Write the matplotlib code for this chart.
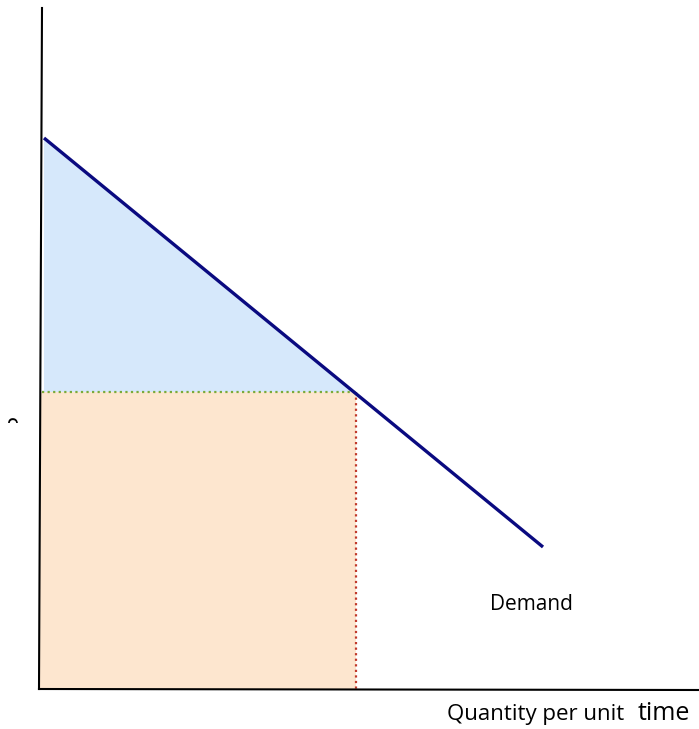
import matplotlib.pyplot as plt
from matplotlib.patches import Polygon, Rectangle
from matplotlib.transforms import Bbox, TransformedBbox

# everything is in picture pixels (x right, y down)
demand_x = [44, 543]
demand_y = [138, 547]
price_y = 392
qty_x = 356
yaxis_x = [42, 39]
yaxis_y = [8, 689]
xaxis_x = [39, 699]
xaxis_y = [689, 690]

fig = plt.figure(figsize=(6.99, 7.29), dpi=100)
ax = fig.add_axes([0, 0, 1, 1])
ax.set_xlim(0, 699)
ax.set_ylim(729, 0)
ax.axis('off')

# consumer surplus triangle
ax.add_patch(Polygon([(44, demand_y[0]), (44, price_y), (qty_x - 3, price_y)],
                     closed=True, facecolor='#d6e8fb', edgecolor='none'))
# expenditure rectangle
ax.add_patch(Rectangle((40, price_y), qty_x - 40, 689 - price_y,
                       facecolor='#fde6cf', edgecolor='none'))

ax.plot([42, qty_x], [price_y, price_y], color='#7aaa3a', lw=1.6, ls=(0, (1, 1.5)))
ax.plot([qty_x, qty_x], [price_y, 689], color='#c0392b', lw=1.6, ls=(0, (1, 1.5)))

ax.plot(demand_x, demand_y, color='#0a0a80', lw=2.4, solid_capstyle='butt')

ax.plot(yaxis_x, yaxis_y, color='black', lw=1.5)
ax.plot(xaxis_x, xaxis_y, color='black', lw=1.5)

ax.text(490, 610, 'Demand', fontsize=15, family='Open Sans', va='baseline', ha='left')
ax.text(447, 720, 'Quantity per unit', fontsize=16, family='Open Sans', va='baseline', ha='left')
ax.text(690, 720, 'time', fontsize=18, family='Open Sans', va='baseline', ha='right')

# axis label, only a sliver shows in the original
p = ax.text(6, 414, 'P', fontsize=17, family='Open Sans', rotation=90, va='top', ha='left')
p.set_clip_box(TransformedBbox(Bbox([[0, 400], [40, 423]]), ax.transData))
p.set_clip_on(True)

fig.savefig('out.png', dpi=100)
